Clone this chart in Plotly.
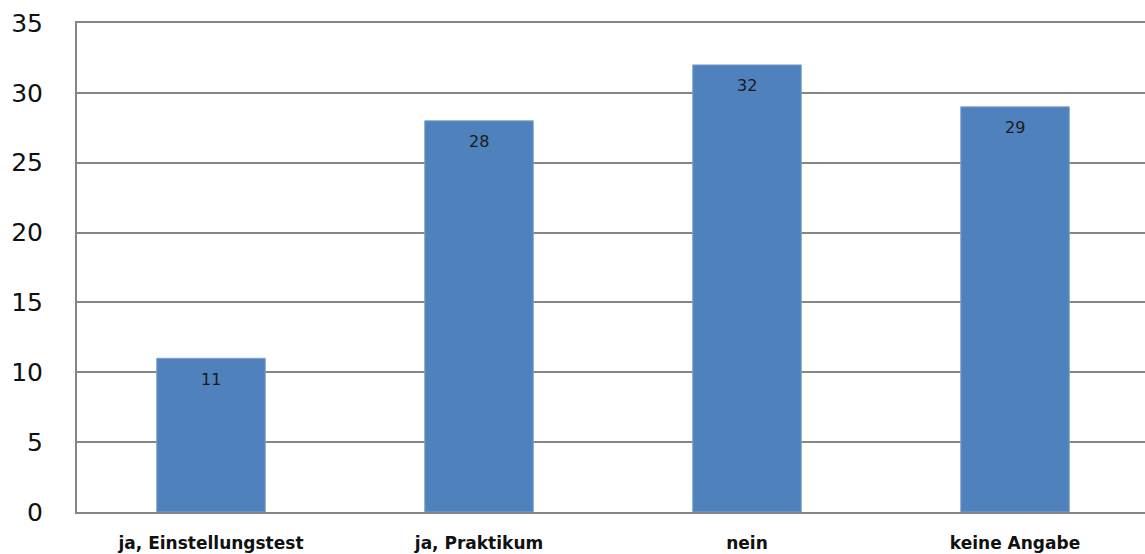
import plotly.graph_objects as go

categories = ["ja, Einstellungstest", "ja, Praktikum", "nein", "keine Angabe"]
values = [11, 28, 32, 29]
y_ticks = [0, 5, 10, 15, 20, 25, 30, 35]

fig = go.Figure(go.Bar(
    x=categories, y=values,
    marker=dict(color="#4F81BD", line=dict(color="#7FA3D0", width=1)),
    textposition="none", hoverinfo="skip",
    width=0.405,
))

for c, v in zip(categories, values):
    fig.add_annotation(
        x=c, y=v, text=str(v), showarrow=False, yanchor="middle", yshift=-21,
        font=dict(family="DejaVu Sans", size=16, color="#1a1a1a"),
    )

fig.update_layout(
    width=1145, height=554,
    margin=dict(l=77, r=0, t=23, b=42, autoexpand=False),
    paper_bgcolor="white", plot_bgcolor="white",
    showlegend=False,
    xaxis=dict(
        range=[-0.5, 3.485], automargin=False,
        showgrid=False, showline=True, mirror=True,
        linecolor="#868686", linewidth=2,
        ticks="", ticklabelstandoff=15,
        tickfont=dict(family="DejaVu Sans", size=17, color="#111111", weight="bold"),
    ),
    yaxis=dict(
        range=[0, 35], tickvals=y_ticks, automargin=False,
        showgrid=True, gridcolor="#868686", gridwidth=2,
        showline=True, linecolor="#868686", linewidth=2,
        zeroline=False, ticks="", ticklabelstandoff=27,
        tickfont=dict(family="DejaVu Sans", size=25, color="#111111"),
    ),
)

fig.write_html("out.html", config={"displayModeBar": False},
               post_script="document.body.style.margin='0';")
